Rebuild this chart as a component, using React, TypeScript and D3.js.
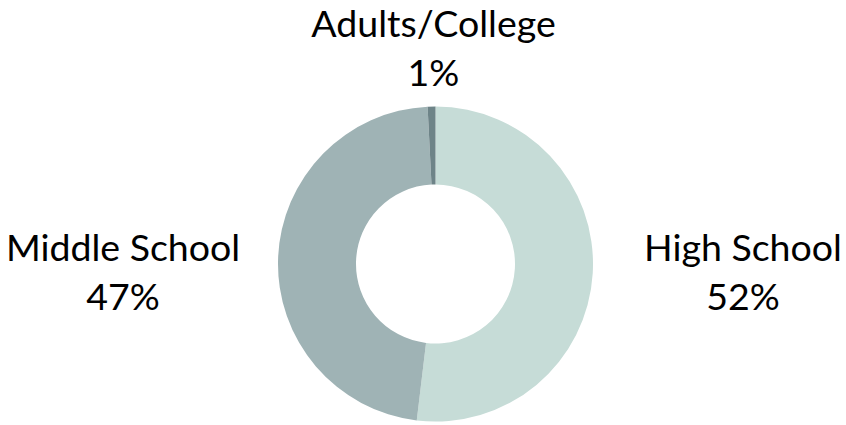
import React from "react";
import * as d3 from "d3";

const categories = ["High School", "Middle School", "Adults/College"];
const values = [51.9, 47.3, 0.8];
const percentLabels = ["52%", "47%", "1%"];
const colors = ["#c6dcd7", "#9fb3b5", "#6e8488"];

const W = 846;
const H = 425;
const cx = 435.5;
const cy = 264;
const outerR = 157.5;
const innerR = 79.5;

const labelPos = [
  { x: 743, y: 261 },
  { x: 123, y: 261 },
  { x: 433.5, y: 37 },
];

export default function App() {
  const pie = d3.pie<number>().sort(null).value((d) => d);
  const arcs = pie(values);
  const arcGen = d3.arc<d3.PieArcDatum<number>>().innerRadius(innerR).outerRadius(outerR);

  return (
    <svg
      width={W}
      height={H}
      style={{ position: "absolute", left: 0, top: 0, background: "#fff" }}
    >
      <g transform={`translate(${cx},${cy})`}>
        {arcs.map((a, i) => (
          <path key={i} d={arcGen(a) || ""} fill={colors[i]} />
        ))}
      </g>
      {categories.map((c, i) => (
        <text
          key={c}
          x={labelPos[i].x}
          y={labelPos[i].y}
          textAnchor="middle"
          fontFamily="Lato, 'Open Sans', sans-serif"
          fontSize={37.5}
          fill="#000"
        >
          <tspan x={labelPos[i].x}>{c}</tspan>
          <tspan x={labelPos[i].x} dy={49}>
            {percentLabels[i]}
          </tspan>
        </text>
      ))}
    </svg>
  );
}
